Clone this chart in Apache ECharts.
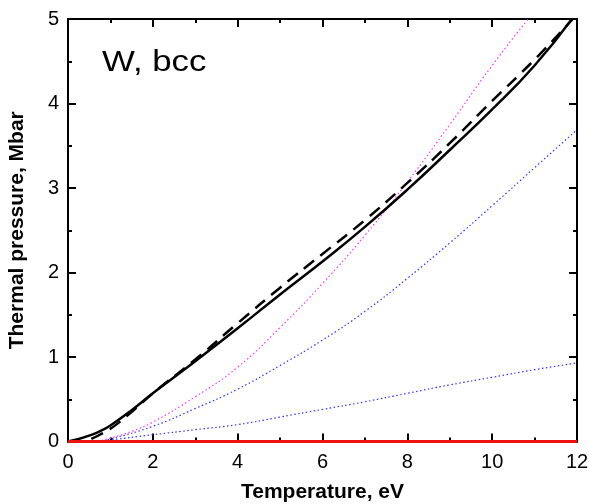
<!DOCTYPE html>
<html>
<head>
<meta charset="utf-8">
<script src="https://cdn.jsdelivr.net/npm/echarts@6/dist/echarts.min.js"></script>
<style>html,body{margin:0;padding:0;background:#fff}#c{width:589px;height:504px}</style>
</head>
<body>
<div id="c"></div>
<script>
// Data (Temperature eV, Thermal pressure Mbar)
const solidX = [0, 0.25, 0.5, 0.75, 1, 1.5, 2, 2.5, 3, 4, 5, 6, 7, 8, 9, 10, 11, 11.88];
const solidY = [0, 0.03, 0.07, 0.12, 0.19, 0.37, 0.57, 0.76, 0.95, 1.34, 1.74, 2.13, 2.54, 2.98, 3.45, 3.93, 4.45, 5.0];

const dashX = [0.55, 0.75, 1, 1.5, 2, 3, 4, 5, 6, 7, 8, 9, 10, 11, 11.9];
const dashY = [0.03, 0.08, 0.15, 0.35, 0.57, 0.97, 1.4, 1.82, 2.22, 2.62, 3.06, 3.53, 4.03, 4.52, 5.0];

const magX = [0.7, 1, 1.5, 2, 3, 4, 5, 6, 7, 8, 9, 10, 10.85];
const magY = [0, 0.04, 0.12, 0.23, 0.53, 0.88, 1.35, 1.87, 2.44, 3.07, 3.75, 4.45, 5.0];

const blueUpX = [0, 0.7, 1, 2, 3, 4, 5, 6, 7, 8, 9, 10, 11, 12];
const blueUpY = [0, 0, 0.03, 0.18, 0.39, 0.62, 0.9, 1.2, 1.54, 1.93, 2.35, 2.79, 3.24, 3.69];

const blueLoX = [0, 0.5, 1, 2, 3, 4, 5, 6, 7, 8, 9, 10, 11, 12];
const blueLoY = [0, 0, 0.02, 0.08, 0.14, 0.2, 0.29, 0.38, 0.47, 0.57, 0.67, 0.76, 0.85, 0.93];

const redX = [0, 12];
const redY = [0, 0];

const xTicks = [0, 2, 4, 6, 8, 10, 12];
const yTicks = [0, 1, 2, 3, 4, 5];

const zip = (xs, ys) => xs.map((x, i) => [x, ys[i]]);

const chart = echarts.init(document.getElementById('c'), null, {renderer: 'canvas'});
const font = 'Liberation Sans, Arial, sans-serif';
const axCommon = {
  axisLine: {show: true, onZero: false, lineStyle: {color: '#000', width: 2}},
  axisTick: {show: true, inside: true, length: 8, lineStyle: {color: '#000', width: 2}},
  minorTick: {show: true, splitNumber: 2, length: 4, lineStyle: {color: '#000', width: 2}},
  splitLine: {show: false}
};
chart.setOption({
  animation: false,
  grid: {left: 68, right: 12, top: 19, bottom: 62.5, containLabel: false, outerBoundsMode: 'none'},
  xAxis: [
    Object.assign({
      type: 'value', min: 0, max: 12, interval: 2, position: 'bottom',
      name: 'Temperature, eV', nameLocation: 'middle', nameGap: 40,
      nameTextStyle: {fontFamily: font, fontSize: 21, fontWeight: 'bold', color: '#000'},
      axisLabel: {fontFamily: font, fontSize: 20, color: '#000', margin: 11,
        formatter: v => xTicks.includes(v) ? String(v) : ''}
    }, axCommon),
    Object.assign({
      type: 'value', min: 0, max: 12, interval: 2, position: 'top',
      axisLabel: {show: false}
    }, axCommon)
  ],
  yAxis: [
    Object.assign({
      type: 'value', min: 0, max: 5, interval: 1, position: 'left',
      name: 'Thermal pressure, Mbar', nameLocation: 'middle', nameGap: 40,
      nameTextStyle: {fontFamily: font, fontSize: 21, fontWeight: 'bold', color: '#000'},
      axisLabel: {fontFamily: font, fontSize: 20, color: '#000', margin: 9,
        formatter: v => yTicks.includes(v) ? String(v) : ''}
    }, axCommon),
    Object.assign({
      type: 'value', min: 0, max: 5, interval: 1, position: 'right',
      axisLabel: {show: false}
    }, axCommon)
  ],
  graphic: [{
    type: 'text', x: 102, y: 48, scaleX: 1.2,
    style: {text: 'W, bcc', font: '29px ' + font, fill: '#000', textAlign: 'left', textVerticalAlign: 'top'}
  }],
  series: [
    {type: 'line', data: zip(blueLoX, blueLoY), smooth: true, symbol: 'none',
      lineStyle: {color: '#3333ff', width: 1.2, type: [1.5, 2.5]}},
    {type: 'line', data: zip(blueUpX, blueUpY), smooth: true, symbol: 'none',
      lineStyle: {color: '#3333ff', width: 1.2, type: [1.5, 2.5]}},
    {type: 'line', data: zip(magX, magY), smooth: true, symbol: 'none',
      lineStyle: {color: '#ff33ff', width: 1.2, type: [1.5, 2.5]}},
    {type: 'line', data: zip(dashX, dashY), smooth: true, symbol: 'none',
      lineStyle: {color: '#000', width: 2.5, type: [13, 8]}},
    {type: 'line', data: zip(solidX, solidY), smooth: true, symbol: 'none',
      lineStyle: {color: '#000', width: 2.5}},
    {type: 'line', data: zip(redX, redY), symbol: 'none', clip: false,
      lineStyle: {color: '#ee1111', width: 3}}
  ]
});
</script>
</body>
</html>
